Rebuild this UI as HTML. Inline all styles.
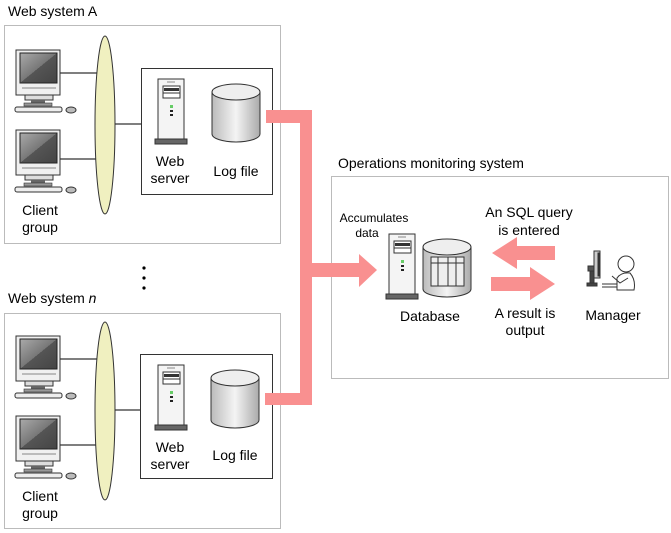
<!DOCTYPE html>
<html><head><meta charset="utf-8"><style>
html,body{margin:0;padding:0;background:#fff}
svg{display:block}
text{font-family:"Liberation Sans",Arial,sans-serif;font-size:14px;fill:#000}
</style></head><body>
<svg width="671" height="533" viewBox="0 0 671 533" xmlns="http://www.w3.org/2000/svg">
<defs>
<linearGradient id="scr" x1="0" y1="0" x2="1" y2="1"><stop offset="0" stop-color="#aaa"/><stop offset="0.5" stop-color="#777"/><stop offset="0.5" stop-color="#555"/><stop offset="1" stop-color="#444"/></linearGradient>
<linearGradient id="cyl" x1="0" y1="0" x2="1" y2="0"><stop offset="0" stop-color="#bbb"/><stop offset="0.5" stop-color="#f4f4f4"/><stop offset="1" stop-color="#aaa"/></linearGradient>
<g id="pc">
<rect x="16" y="50" width="44" height="45" fill="#f0f0f0" stroke="#333"/>
<rect x="20" y="53" width="37" height="30" fill="url(#scr)" stroke="#222"/>
<rect x="22" y="87" width="34" height="2" fill="#bbb"/>
<rect x="25" y="95" width="28" height="5" fill="#ddd" stroke="#333"/>
<rect x="31" y="100" width="14" height="4" fill="#666"/>
<rect x="24" y="103" width="28" height="3" fill="#999" stroke="#333" stroke-width="0.6"/>
<rect x="15" y="107" width="47" height="5" rx="2" fill="#eee" stroke="#333"/>
<ellipse cx="71" cy="110" rx="5" ry="3" fill="#bbb" stroke="#333"/>
</g>
<g id="srv">
<rect x="0" y="0" width="26" height="60" fill="#f4f4f4" stroke="#333"/>
<rect x="5" y="7" width="17" height="12" fill="#fff" stroke="#333"/>
<rect x="6" y="9" width="15" height="3" fill="#333"/>
<line x1="5" y1="14" x2="22" y2="14" stroke="#333"/>
<rect x="12" y="26" width="3" height="3" fill="#6c6"/>
<rect x="12" y="31" width="3" height="2" fill="#222"/>
<rect x="12" y="35" width="3" height="2" fill="#222"/>
<rect x="-3" y="60" width="32" height="5" fill="#666" stroke="#333"/>
<line x1="9" y1="3" x2="17" y2="3" stroke="#888"/>
</g>
<g id="cylg">
<path d="M0 8 V50 A24 8 0 0 0 48 50 V8" fill="url(#cyl)" stroke="#333"/>
<ellipse cx="24" cy="8" rx="24" ry="8" fill="#eee" stroke="#333"/>
</g>
</defs>

<text x="8" y="16">Web system A</text>
<rect x="4.5" y="25.5" width="276" height="218" fill="none" stroke="#bbb"/>
<line x1="60" y1="73" x2="100" y2="73" stroke="#555" stroke-width="1.5"/>
<line x1="60" y1="159" x2="100" y2="159" stroke="#555" stroke-width="1.5"/>
<line x1="110" y1="124" x2="142" y2="124" stroke="#555" stroke-width="1.5"/>
<use href="#pc"/>
<use href="#pc" y="80"/>
<ellipse cx="105" cy="125" rx="10" ry="89" fill="#f0f0c0" stroke="#333"/>
<text x="40" y="215" text-anchor="middle">Client</text>
<text x="40" y="232" text-anchor="middle">group</text>
<rect x="141.5" y="68.5" width="131" height="126" fill="#fff" stroke="#333"/>
<use href="#srv" x="158" y="79"/>
<use href="#cylg" x="212" y="84"/>
<text x="170" y="166" text-anchor="middle">Web</text>
<text x="170" y="183" text-anchor="middle">server</text>
<text x="236" y="176" text-anchor="middle">Log file</text>

<circle cx="144" cy="268" r="1.6" fill="#000"/>
<circle cx="144" cy="278" r="1.6" fill="#000"/>
<circle cx="144" cy="288" r="1.6" fill="#000"/>

<text x="8" y="303">Web system <tspan font-style="italic">n</tspan></text>
<rect x="4.5" y="313.5" width="276" height="215" fill="none" stroke="#bbb"/>
<g transform="translate(0,286)">
<line x1="60" y1="73" x2="100" y2="73" stroke="#555" stroke-width="1.5"/>
<line x1="60" y1="159" x2="100" y2="159" stroke="#555" stroke-width="1.5"/>
<line x1="110" y1="124" x2="142" y2="124" stroke="#555" stroke-width="1.5"/>
<use href="#pc"/>
<use href="#pc" y="80"/>
<ellipse cx="105" cy="125" rx="10" ry="89" fill="#f0f0c0" stroke="#333"/>
<text x="40" y="215" text-anchor="middle">Client</text>
<text x="40" y="232" text-anchor="middle">group</text>
<rect x="140.5" y="68.5" width="132" height="124" fill="#fff" stroke="#333"/>
<use href="#srv" x="158" y="79"/>
<use href="#cylg" x="211" y="84"/>
<text x="170" y="166" text-anchor="middle">Web</text>
<text x="170" y="183" text-anchor="middle">server</text>
<text x="235" y="174" text-anchor="middle">Log file</text>
</g>

<text x="338" y="168">Operations monitoring system</text>
<rect x="331.5" y="176.5" width="337" height="202" fill="none" stroke="#bbb"/>

<g fill="#f99090">
<rect x="266" y="110" width="46" height="13"/>
<rect x="300" y="110" width="12" height="295"/>
<rect x="265" y="393" width="47" height="12"/>
<rect x="312" y="263" width="49" height="14"/>
<polygon points="359,254 377,270 359,287"/>
<rect x="515" y="246" width="40" height="14"/>
<polygon points="517,237 492,253 517,269"/>
<rect x="491" y="277" width="40" height="14"/>
<polygon points="530,267 555,284 530,300"/>
</g>

<text x="374" y="222" text-anchor="middle" style="font-size:12px">Accumulates</text>
<text x="367" y="237" text-anchor="middle" style="font-size:12px">data</text>
<use href="#srv" x="389" y="234"/>
<g transform="translate(423,239)">
<path d="M0 8 V50 A24 8 0 0 0 48 50 V8" fill="url(#cyl)" stroke="#333"/>
<ellipse cx="24" cy="8" rx="24" ry="8" fill="#eee" stroke="#333"/>
<rect x="8" y="18" width="33" height="29" fill="#eee" stroke="#333"/>
<line x1="8" y1="24" x2="41" y2="24" stroke="#333"/>
<line x1="15" y1="18" x2="15" y2="47" stroke="#333"/>
<line x1="25" y1="18" x2="25" y2="47" stroke="#333"/>
<line x1="33" y1="18" x2="33" y2="47" stroke="#333"/>
</g>
<text x="430" y="321" text-anchor="middle">Database</text>
<text x="529" y="217" text-anchor="middle">An SQL query</text>
<text x="529" y="235" text-anchor="middle">is entered</text>
<text x="525" y="318" text-anchor="middle">A result is</text>
<text x="525" y="335" text-anchor="middle">output</text>

<g stroke="#333" fill="#fff">
<rect x="594" y="251" width="6" height="27" fill="#ccc"/>
<rect x="598" y="253" width="2" height="23" fill="#333"/>
<rect x="588" y="266" width="6" height="5" fill="#555"/>
<rect x="590" y="271" width="4" height="13" fill="#444"/>
<rect x="587" y="283" width="10" height="3" fill="#444"/>
<circle cx="626" cy="264" r="8"/>
<path d="M617 290 V278 Q621 272 630 273 Q636 280 634 290 Z"/>
<path d="M612 276 L620 283 L628 278" fill="none"/>
<line x1="602" y1="284" x2="617" y2="284"/>
<line x1="602" y1="287" x2="617" y2="287"/>
</g>
<text x="613" y="320" text-anchor="middle">Manager</text>
</svg>
</body></html>
